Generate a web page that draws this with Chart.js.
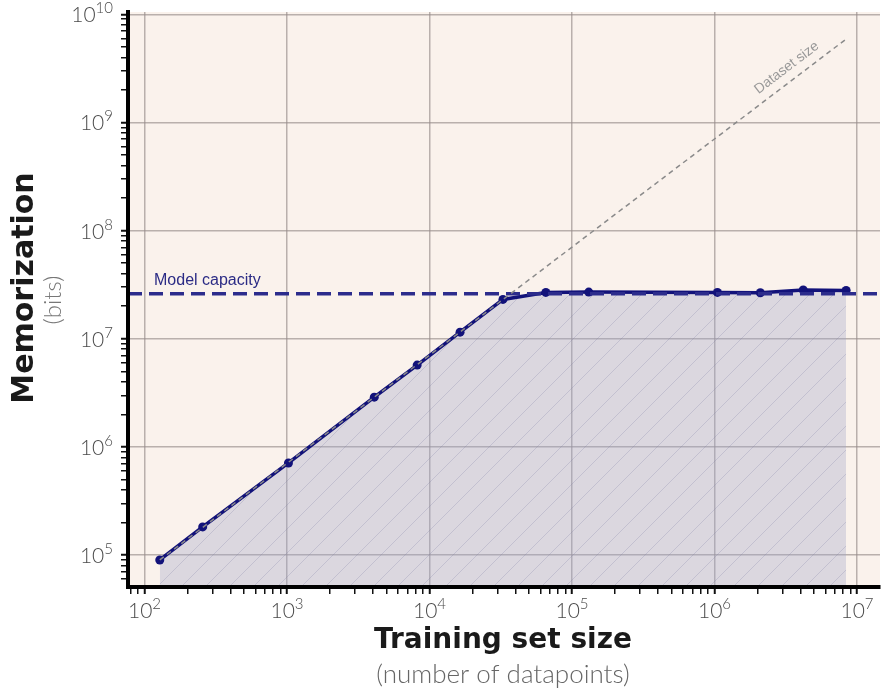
<!DOCTYPE html>
<html>
<head>
<meta charset="utf-8">
<script src="https://cdn.jsdelivr.net/npm/chart.js@4.4.1/dist/chart.umd.min.js"></script>
<style>
  html, body { margin: 0; padding: 0; background: #fff; }
  #wrap { width: 885px; height: 700px; }
</style>
</head>
<body>
<div id="wrap"><canvas id="memChart"></canvas></div>
<script>
// training set size (number of datapoints) and measured memorization (bits)
const trainSizes = [128, 256, 1024, 4096, 8192, 16384, 32768, 65536, 131072, 1048576, 2097152, 4194304, 8388608];
const memorizedBits = [9.0e4, 1.82e5, 7.1e5, 2.88e6, 5.7e6, 1.15e7, 2.31e7, 2.68e7, 2.7e7, 2.68e7, 2.66e7, 2.82e7, 2.79e7];

// reference lines
const capacityBits = 2.6e7;
const datasetLineX = [128, 8388608];
const datasetLineY = [9.0e4, 5.9e9];

// axis ranges and decade tick labels (exponents of 10)
const xRange = [76.6, 1.45e7];
const yRange = [5.06e4, 1.05e10];
const xDecades = [2, 3, 4, 5, 6, 7];
const yDecades = [5, 6, 7, 8, 9, 10];

const NAVY = '#12127a';
const TICK_FONT = '"Lato", "Open Sans", "Liberation Sans", sans-serif';
const TITLE_FONT = '"DejaVu Sans", "Open Sans", sans-serif';

function isDecade(v) {
  if (!v) return false;
  const l = Math.log10(v);
  return Math.abs(l - Math.round(l)) < 1e-9;
}

function logTicks(min, max) {
  const out = [];
  for (let e = Math.floor(Math.log10(min)); e <= Math.ceil(Math.log10(max)); e++) {
    for (let m = 1; m < 10; m++) {
      const v = m * Math.pow(10, e);
      if (v >= min && v <= max) out.push({ value: v, major: m === 1 });
    }
  }
  return out;
}

function hatchPattern() {
  const size = 24;
  const c = document.createElement('canvas');
  c.width = c.height = size;
  const g = c.getContext('2d');
  g.fillStyle = 'rgba(160,165,200,0.35)';
  g.fillRect(0, 0, size, size);
  g.strokeStyle = 'rgba(120,120,160,0.25)';
  g.lineWidth = 1;
  g.beginPath();
  g.moveTo(0, size); g.lineTo(size, 0);
  g.moveTo(-size / 2, size / 2); g.lineTo(size / 2, -size / 2);
  g.moveTo(size / 2, size * 1.5); g.lineTo(size * 1.5, size / 2);
  g.stroke();
  return g.createPattern(c, 'repeat');
}

// beige plot background
const plotBackground = {
  id: 'plotBackground',
  beforeDraw(chart) {
    const { ctx, chartArea: a } = chart;
    ctx.save();
    ctx.fillStyle = '#faf2ec';
    ctx.fillRect(a.left, a.top, a.right - a.left, a.bottom - a.top);
    ctx.restore();
  }
};

// 10^n tick labels, axis titles and line annotations
const textLayer = {
  id: 'textLayer',
  afterDraw(chart) {
    const { ctx } = chart;
    const xs = chart.scales.x, ys = chart.scales.y;
    ctx.save();
    ctx.fillStyle = '#4a4a4a';

    const big = '300 21px ' + TICK_FONT;
    const small = '300 15px ' + TICK_FONT;

    xDecades.forEach(d => {
      const px = xs.getPixelForValue(Math.pow(10, d));
      ctx.font = big;
      const w1 = ctx.measureText('10').width;
      ctx.font = small;
      const w2 = ctx.measureText(String(d)).width;
      const x0 = px - (w1 + w2) / 2;
      ctx.textAlign = 'left';
      ctx.textBaseline = 'alphabetic';
      ctx.font = big;
      ctx.fillText('10', x0, 618);
      ctx.font = small;
      ctx.fillText(String(d), x0 + w1, 609);
    });

    yDecades.forEach(d => {
      const py = ys.getPixelForValue(Math.pow(10, d));
      ctx.font = small;
      const w2 = ctx.measureText(String(d)).width;
      const right = 113;
      ctx.textAlign = 'right';
      ctx.textBaseline = 'alphabetic';
      ctx.fillText(String(d), right, py - 1);
      ctx.font = big;
      ctx.fillText('10', right - w2, py + 8);
    });

    // axis titles
    ctx.textAlign = 'center';
    ctx.textBaseline = 'middle';
    ctx.fillStyle = '#1a1a1a';
    ctx.font = 'bold 28px ' + TITLE_FONT;
    ctx.fillText('Training set size', 503, 641);
    ctx.fillStyle = '#666';
    ctx.font = '300 26px ' + TICK_FONT;
    ctx.fillText('(number of datapoints)', 503, 675);

    ctx.save();
    ctx.translate(25, 288);
    ctx.rotate(-Math.PI / 2);
    ctx.fillStyle = '#1a1a1a';
    ctx.font = 'bold 30px ' + TITLE_FONT;
    ctx.fillText('Memorization', 0, 0);
    ctx.restore();

    ctx.save();
    ctx.translate(53, 300);
    ctx.rotate(-Math.PI / 2);
    ctx.fillStyle = '#777';
    ctx.font = '300 24px ' + TICK_FONT;
    ctx.fillText('(bits)', 0, 0);
    ctx.restore();

    // "Model capacity" label above the dashed line
    ctx.fillStyle = '#2b2b85';
    ctx.font = '16px "Liberation Sans", Arial, sans-serif';
    ctx.textAlign = 'left';
    ctx.textBaseline = 'alphabetic';
    ctx.fillText('Model capacity', 154, ys.getPixelForValue(capacityBits) - 9);

    // "Dataset size" label along the diagonal
    const p0x = xs.getPixelForValue(datasetLineX[0]), p0y = ys.getPixelForValue(datasetLineY[0]);
    const p1x = xs.getPixelForValue(datasetLineX[1]), p1y = ys.getPixelForValue(datasetLineY[1]);
    const ang = Math.atan2(p1y - p0y, p1x - p0x);
    const t = 0.925;
    ctx.save();
    ctx.translate(p0x + (p1x - p0x) * t, p0y + (p1y - p0y) * t);
    ctx.rotate(ang);
    ctx.fillStyle = '#999';
    ctx.font = '14px "Liberation Sans", Arial, sans-serif';
    ctx.textAlign = 'center';
    ctx.textBaseline = 'middle';
    ctx.fillText('Dataset size', 0, -13);
    ctx.restore();

    ctx.restore();
  }
};

const gridColor = ctx => isDecade(ctx.tick && ctx.tick.value) ? 'rgba(150,140,138,0.65)' : 'rgba(0,0,0,0)';
const tickWidth = ctx => isDecade(ctx.tick && ctx.tick.value) ? 2 : 1.5;

new Chart(document.getElementById('memChart'), {
  type: 'line',
  data: {
    datasets: [
      {
        label: 'Dataset size',
        data: datasetLineX.map((x, i) => ({ x, y: datasetLineY[i] })),
        borderColor: '#8a8a8a',
        borderWidth: 1.5,
        borderDash: [5, 4],
        pointRadius: 0,
        fill: false
      },
      {
        label: 'Model capacity',
        data: [{ x: xRange[0], y: capacityBits }, { x: xRange[1], y: capacityBits }],
        borderColor: '#2c2c8c',
        borderWidth: 3.5,
        borderDash: [14, 7],
        pointRadius: 0,
        fill: false
      },
      {
        label: 'Memorization',
        data: trainSizes.map((x, i) => ({ x, y: memorizedBits[i] })),
        borderColor: NAVY,
        borderWidth: 3.5,
        pointRadius: 4.5,
        pointBackgroundColor: NAVY,
        pointBorderColor: NAVY,
        pointBorderWidth: 0,
        backgroundColor: hatchPattern(),
        fill: 'start'
      }
    ]
  },
  options: {
    responsive: true,
    maintainAspectRatio: false,
    animation: false,
    layout: { padding: { top: 12, right: 5, left: 0, bottom: 0 } },
    plugins: {
      legend: { display: false },
      tooltip: { enabled: false }
    },
    scales: {
      x: {
        type: 'logarithmic',
        min: xRange[0],
        max: xRange[1],
        afterFit: s => { s.height = 113; },
        afterBuildTicks: s => { s.ticks = logTicks(s.min, s.max); },
        ticks: { display: false },
        grid: { color: gridColor, lineWidth: 1.5, tickColor: '#111', tickLength: 7, tickWidth: tickWidth },
        border: { color: '#000', width: 4, z: 1 }
      },
      y: {
        type: 'logarithmic',
        min: yRange[0],
        max: yRange[1],
        afterFit: s => { s.width = 128; },
        afterBuildTicks: s => { s.ticks = logTicks(s.min, s.max); },
        ticks: { display: false },
        grid: { color: gridColor, lineWidth: 1.5, tickColor: '#111', tickLength: 7, tickWidth: tickWidth },
        border: { color: '#000', width: 4, z: 1 }
      }
    }
  },
  plugins: [plotBackground, textLayer]
});
</script>
</body>
</html>
